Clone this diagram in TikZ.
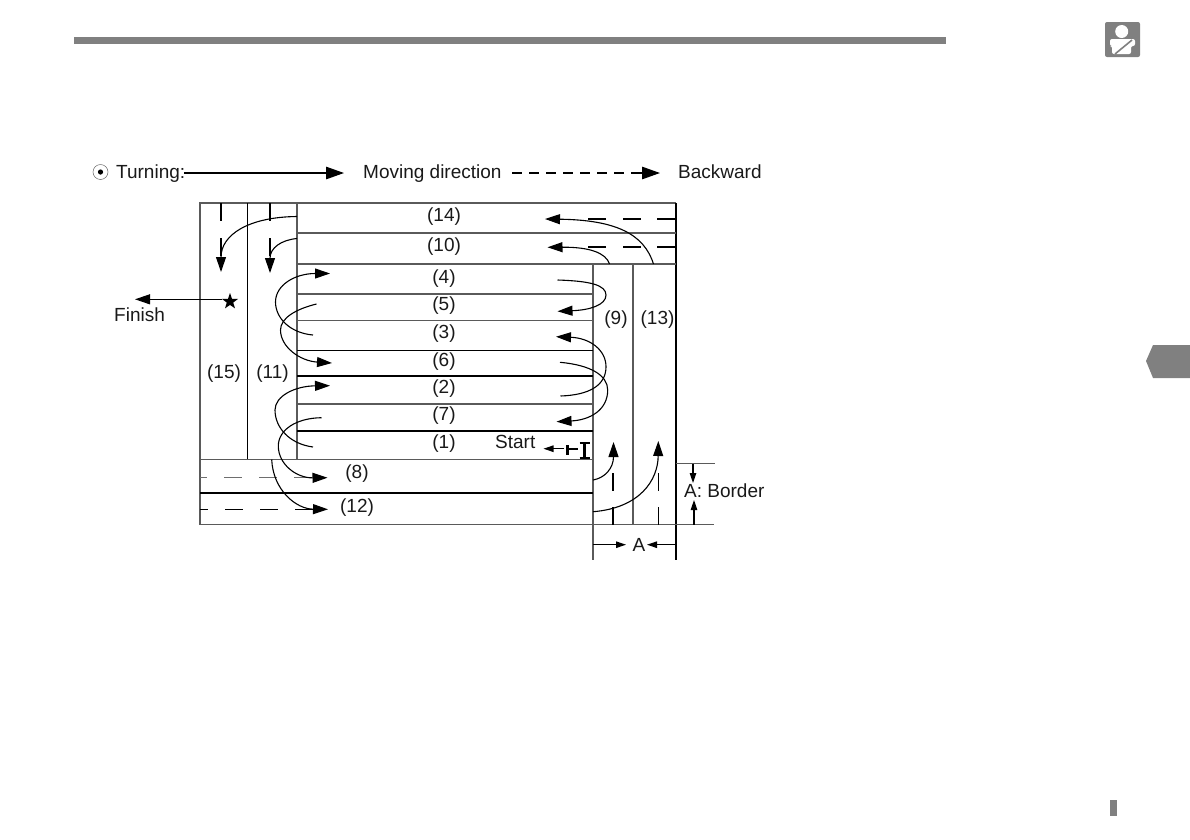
\documentclass[tikz,border=0pt]{standalone}
\usepackage{fontspec}
\setmainfont{Liberation Sans}
\usepackage{xcolor}
\usetikzlibrary{arrows.meta, positioning, shapes.geometric}
\definecolor{barGray}{HTML}{808080}
\definecolor{lineGray}{HTML}{5A5A5A}
\definecolor{dashGray}{HTML}{6E6E6E}
\begin{document}
\begin{tikzpicture}[
      x=1pt, y=-1pt,
      every node/.style={font=\fontsize{19}{22}\selectfont, inner sep=0pt, text=black!90},
      grid/.style={line width=1.1pt, lineGray},
      gridk/.style={line width=1.3pt, black},
      arr/.style={-{Triangle[length=15pt,width=10pt]}, line width=1.1pt, black},
      arrl/.style={-{Triangle[length=18pt,width=12.5pt]}, line width=1.2pt, black},
      arrs/.style={-{Triangle[length=10pt,width=6.5pt]}, line width=1.1pt, black},
      lane/.style={line width=1.3pt, black, dash pattern=on 18pt off 17pt},
      lanegray/.style={line width=1.2pt, dashGray, dash pattern=on 18pt off 17pt},
    ]
      \useasboundingbox (0,0) rectangle (1190,839);

      % page furniture
      \fill[barGray] (74,37) rectangle (946,44);
      \fill[barGray, rounded corners=2pt] (1105,22) rectangle (1140,57);
      \fill[white] (1121.7,31.5) circle (6.5);
      \fill[white, rounded corners=2pt] (1110,39) -- (1135,39) -- (1135,46) -- (1131,46) -- (1131,54) -- (1112,54) -- (1112,46) -- (1110,46) -- cycle;
      \draw[barGray, line width=1.6pt] (1132,40) -- (1115,54);
      \fill[barGray] (1190,345) -- (1153,345) -- (1146,361) -- (1153,378) -- (1190,378) -- cycle;
      \fill[barGray] (1110,800) rectangle (1117,816);

      % legend
      \node[draw=black!60, line width=0.5pt, circle, minimum size=15pt] (turnmark) at (100.5,172) {};
      \fill[black] (turnmark.center) circle (2.6);
      \node[anchor=base west] (turning) at (116,178) {Turning:};
      \node[anchor=base west] (moving) at (363,178) {Moving direction};
      \node[anchor=base west] (backward) at (678,178) {Backward};
      \coordinate (movetail) at (184,173);
      \coordinate (movehead) at (344,173);
      \coordinate (backtail) at (512,173);
      \coordinate (backhead) at (660,173);
      \draw[arrl] (movetail) -- (movehead);
      \draw[line width=1.2pt, dash pattern=on 10pt off 7pt] (backtail) -- (642,173);
      \draw[arrl] (640,173) -- (backhead);

      % field outline
      \draw[line width=1.2pt, lineGray] (200,524.5) -- (200,203) -- (676,203);
      \draw[gridk] (676,203) -- (676,560);
      \draw[grid] (200,524.5) -- (714,524.5);
      \draw[gridk] (247.5,203) -- (247.5,459.5);
      \draw[grid] (297,203) -- (297,459.5);
      \draw[grid] (593,264) -- (593,560);
      \draw[grid] (633,264) -- (633,524.5);

      % rows
      \draw[grid] (297,233) -- (676,233);
      \draw[grid] (297,264) -- (676,264);
      \draw[grid] (297,294) -- (593,294);
      \draw[grid] (297,320.5) -- (593,320.5);
      \draw[gridk] (297,350.5) -- (593,350.5);
      \draw[gridk] (297,376) -- (593,376);
      \draw[grid] (297,404) -- (593,404);
      \draw[gridk] (297,431) -- (593,431);
      \draw[grid] (200,459.5) -- (593,459.5);
      \draw[gridk] (200,493) -- (593,493);

      % row labels
      \node (r14) at (444,217) {(14)};
      \node (r10) at (444,247) {(10)};
      \node (r4) at (444,279) {(4)};
      \node (r5) at (444,306) {(5)};
      \node (r3) at (444,334) {(3)};
      \node (r6) at (444,361.5) {(6)};
      \node (r2) at (444,389) {(2)};
      \node (r7) at (444,415.5) {(7)};
      \node (r1) at (444,444) {(1)};
      \node (r8) at (357,474) {(8)};
      \node (r12) at (357,508) {(12)};
      \node (r15) at (224,374) {(15)};
      \node (r11) at (272.5,374) {(11)};
      \node (r9) at (616,320) {(9)};
      \node (r13) at (657.5,320) {(13)};

      % straight runs
      \draw[lane] (221,203) -- (221,258);
      \draw[lane] (270,203) -- (270,258);
      \draw[lanegray, dash phase=11pt] (200,477.5) -- (312,477.5);
      \draw[lane, line width=1pt, dash phase=10pt] (200,509.5) -- (315,509.5);
      \draw[lane, line width=1.1pt, dash pattern=on 18pt off 16.5pt] (675,219) -- (588,219);
      \draw[lane, line width=1.1pt, dash pattern=on 18pt off 16.5pt] (675,247) -- (588,247);
      \draw[lane, dash pattern=on 18pt off 16pt] (613,524.5) -- (613,472);
      \draw[lane, line width=0.9pt, dash pattern=on 18pt off 16pt] (658.5,524.5) -- (658.5,472);

      % turns at the ends of the rows
      \draw[arr] (297,216.5) .. controls (248,217) and (221,235) .. (221,272);
      \draw[arr] (297,238.5) .. controls (281,240) and (270,248) .. (270,273);
      \draw[arr] (653.5,264) .. controls (644,234) and (616,220) .. (545,219);
      \draw[arr] (609.5,264) .. controls (606,253) and (590,247) .. (547.5,247.3);
      \draw[arr] (313,335) .. controls (290,333) and (275.5,318) .. (275.5,302) .. controls (275.5,285) and (295,273.5) .. (330,273.5);
      \draw[arr] (316.5,304) .. controls (296,309) and (280.5,318) .. (280.5,330) .. controls (280.5,347) and (300,361) .. (332,363);
      \draw[arr] (313,447) .. controls (290,444) and (275,428) .. (275,410) .. controls (275,396) and (295,386) .. (330,385.7);
      \draw[arr] (321.5,417.7) .. controls (296,418) and (278.3,430) .. (278.3,446) .. controls (278.3,464) and (296,478) .. (327.5,477.7);
      \draw[arr] (271.7,459.5) .. controls (273,490) and (296,509) .. (328,509.3);
      \draw[arr] (557.5,280) .. controls (590,281) and (606,285) .. (606,295) .. controls (606,305) and (590,310) .. (557.5,311.3);
      \draw[arr] (560.5,396) .. controls (590,395) and (606,385) .. (606,366.7) .. controls (606,350) and (590,338) .. (556,336.7);
      \draw[arr] (560,362.3) .. controls (590,365) and (607.7,375) .. (607.7,390) .. controls (607.7,410) and (590,420) .. (556.5,421.7);
      \draw[arr] (593,480) .. controls (605,478) and (613.5,468) .. (613.5,442);
      \draw[arr] (593,511.7) .. controls (640,508) and (658,480) .. (658.3,441);

      % start and finish
      \node[star, star points=5, star point ratio=2.5, fill=black, minimum size=17pt] (finishstar) at (230,301.5) {};
      \node[anchor=base west] (finish) at (114,321) {Finish};
      \coordinate (finishtail) at (222,299.3);
      \coordinate (finishhead) at (135,299.3);
      \draw[arr] (finishtail) -- (finishhead);
      \node[anchor=base west] (start) at (495,448) {Start};
      \coordinate (starthead) at (543.5,448.7);
      \coordinate (starttail) at (564,448.7);
      \draw[arrs] (starttail) -- (starthead);
      \draw[line width=2.4pt] (567.5,445) -- (567.5,454.5);
      \draw[line width=2pt] (567.5,448.7) -- (578,448.7);
      \draw[line width=2.4pt] (584.5,442.5) -- (584.5,457);
      \draw[line width=2pt] (579.5,442.5) -- (589.5,442.5);
      \draw[line width=2pt] (579.5,457.5) -- (589.5,457.5);

      % border dimension
      \draw[grid] (676,463.5) -- (715,463.5);
      \node[anchor=base west] (border) at (684,497) {A: Border};
      \coordinate (bordertop) at (693,463.5);
      \coordinate (borderbot) at (694,524.5);
      \draw[arrs] (bordertop) -- (693,483);
      \draw[arrs] (borderbot) -- (694,500);
      \node[anchor=base] (widthA) at (639,551) {A};
      \coordinate (widthl) at (593,544.7);
      \coordinate (widthr) at (676,544.7);
      \draw[arrs] (widthl) -- (626,544.7);
      \draw[arrs] (widthr) -- (647,544.7);
    \end{tikzpicture}
\end{document}
